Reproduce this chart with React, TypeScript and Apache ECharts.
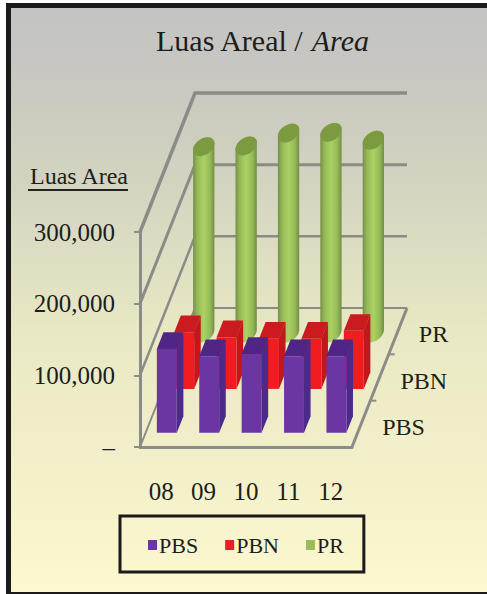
import React, { useEffect, useRef } from "react";
import * as echarts from "echarts";

const categories = ["08", "09", "10", "11", "12"];
const seriesNames = ["PBS", "PBN", "PR"];
const pbsValues = [117000, 107000, 110000, 107000, 107000];
const pbnValues = [79000, 72000, 70000, 70000, 81000];
const prValues = [260000, 261000, 279000, 280000, 269000];
const gridValues = [0, 100000, 200000, 300000];
const gridWidths = [2, 2.5, 3, 3.5];

const DEPTH_X = 55;
const DEPTH_Y = 139;
const ROW_DEPTH = [0.162, 0.478, 0.82];
const HALF_DEPTH = 0.06;
const BAR_FRAC = 0.47;
const CYLINDER_SHIFT = -0.06;
const FONT = '"Liberation Serif", serif';
const LINE = "#8b8c88";

const project = (api: any, i: number, v: number, off: number, d: number) => {
  const p = api.coord([i, v]);
  const band = api.size([1, 0])[0];
  return [p[0] + off * band + DEPTH_X * d, p[1] - DEPTH_Y * d];
};

const prism = (front: string, side: string, top: string, row: number) => (params: any, api: any) => {
  const i = api.value(0);
  const v = api.value(1);
  const h = BAR_FRAC / 2;
  const f = ROW_DEPTH[row] - HALF_DEPTH;
  const b = ROW_DEPTH[row] + HALF_DEPTH;
  const pt = (off: number, val: number, d: number) => project(api, i, val, off, d);
  return {
    type: "group",
    children: [
      { type: "polygon", shape: { points: [pt(h, 0, f), pt(h, 0, b), pt(h, v, b), pt(h, v, f)] }, style: { fill: side } },
      { type: "polygon", shape: { points: [pt(-h, v, f), pt(h, v, f), pt(h, v, b), pt(-h, v, b)] }, style: { fill: top } },
      { type: "polygon", shape: { points: [pt(-h, 0, f), pt(h, 0, f), pt(h, v, f), pt(-h, v, f)] }, style: { fill: front } },
    ],
  };
};

const cylinder = (params: any, api: any) => {
  const i = api.value(0);
  const v = api.value(1);
  const band = api.size([1, 0])[0];
  const rx = BAR_FRAC / 2;
  const rd = 0.068;
  const a = Math.atan2(DEPTH_X * rd, rx * band);
  const at = (val: number, t: number) =>
    project(api, i, val, CYLINDER_SHIFT + rx * Math.cos(t), ROW_DEPTH[2] + rd * Math.sin(t));
  const arc = (val: number, t0: number, t1: number) => {
    const out: number[][] = [];
    for (let k = 0; k <= 24; k++) out.push(at(val, t0 + ((t1 - t0) * k) / 24));
    return out;
  };
  const body = [...arc(0, a + Math.PI, a + 2 * Math.PI), ...arc(v, a, a + Math.PI)];
  const gradient = new echarts.graphic.LinearGradient(0, 0, 1, 0, [
    { offset: 0, color: "#768f47" },
    { offset: 0.2, color: "#94ba58" },
    { offset: 0.5, color: "#abd262" },
    { offset: 0.8, color: "#94ba58" },
    { offset: 1, color: "#748c45" },
  ]);
  return {
    type: "group",
    children: [
      { type: "polygon", shape: { points: body }, style: { fill: gradient } },
      { type: "polygon", shape: { points: arc(v, 0, 2 * Math.PI) }, style: { fill: "#7c9a3f" } },
    ],
  };
};

const walls = (params: any, api: any) => {
  const idx = params.dataIndex;
  const v = api.value(1);
  const n = categories.length;
  const lw = gridWidths[idx];
  const style = { stroke: LINE, lineWidth: lw, fill: "none" };
  const children: any[] = [
    {
      type: "polyline",
      shape: { points: [project(api, 0, v, -0.5, 0), project(api, 0, v, -0.5, 1), project(api, n - 1, v, 0.5, 1)] },
      style,
    },
  ];
  if (v === 0) {
    const edge = (d: number) => project(api, n - 1, 0, 0.5, d);
    children.push({ type: "line", shape: { x1: edge(0)[0], y1: edge(0)[1], x2: edge(1)[0], y2: edge(1)[1] }, style: { stroke: LINE, lineWidth: 3 } });
    [1 / 3, 2 / 3].forEach((d) => {
      const e = edge(d);
      children.push({ type: "line", shape: { x1: e[0], y1: e[1], x2: e[0] + 6, y2: e[1] }, style: { stroke: LINE, lineWidth: 2 } });
    });
  }
  return { type: "group", children };
};

const rowLabels = (params: any, api: any) => {
  const n = categories.length;
  const idx = api.value(0);
  const e = project(api, n - 1, 0, 0.5, (idx + 0.5) / 3);
  return {
    type: "text",
    x: e[0] + 21,
    y: e[1] + 3,
    style: {
      text: seriesNames[idx],
      fill: "#1d1d1b",
      font: `24px ${FONT}`,
      textAlign: "left",
      textVerticalAlign: "middle",
    },
  };
};

export default function App() {
  const ref = useRef<HTMLDivElement>(null);
  useEffect(() => {
    const chart = echarts.init(ref.current!, undefined, { renderer: "svg" });
    const toData = (vals: number[]) => vals.map((v, i) => [i, v]);
    chart.setOption({
      animation: false,
      backgroundColor: "#ffffff",
      title: {
        text: "{a|Luas Areal / }{b|Area}",
        left: 151,
        top: 20,
        textStyle: {
          fontWeight: "normal",
          rich: {
            a: { fontFamily: FONT, fontSize: 30, fontWeight: "normal", color: "#1d1d1b" },
            b: { fontFamily: FONT, fontSize: 30, fontWeight: "normal", fontStyle: "italic", color: "#1d1d1b" },
          },
        },
      },
      legend: {
        data: seriesNames,
        left: 120,
        top: 516,
        icon: "rect",
        itemWidth: 9,
        itemHeight: 10,
        itemGap: 27,
        padding: [18, 20, 16, 28],
        borderColor: "#1a1a1a",
        borderWidth: 3,
        textStyle: { fontFamily: FONT, fontSize: 22, color: "#1d1d1b", padding: [2, 0, 0, -3] },
      },
      grid: { left: 140, width: 212, top: 232, height: 215 },
      xAxis: {
        type: "category",
        data: categories,
        axisLine: { lineStyle: { color: LINE, width: 3 } },
        axisTick: { length: 6, lineStyle: { color: LINE, width: 2 } },
        axisLabel: { fontFamily: FONT, fontSize: 25, color: "#1d1d1b", margin: 32 },
      },
      yAxis: {
        type: "value",
        min: 0,
        max: 300000,
        interval: 100000,
        name: "Luas Area",
        nameLocation: "end",
        nameGap: 44,
        nameTextStyle: { fontFamily: FONT, fontSize: 24, color: "#1d1d1b", align: "right", padding: [0, 12, 0, 0] },
        splitLine: { show: false },
        axisLine: { show: true, lineStyle: { color: LINE, width: 3 } },
        axisTick: { show: true, length: 6, lineStyle: { color: LINE, width: 2 } },
        axisLabel: {
          fontFamily: FONT,
          fontSize: 25,
          color: "#1d1d1b",
          margin: 25,
          formatter: (v: number) => (v === 0 ? "–" : v.toLocaleString("en-US")),
        },
      },
      graphic: [
        {
          type: "rect",
          z: -10,
          shape: { x: 11, y: 8, width: 476, height: 584 },
          style: {
            fill: new echarts.graphic.LinearGradient(0, 0, 0, 1, [
              { offset: 0, color: "#c3c4c3" },
              { offset: 0.1, color: "#c8c6c1" },
              { offset: 0.26, color: "#d0d1bf" },
              { offset: 0.55, color: "#e8e8c4" },
              { offset: 1, color: "#fcf8cf" },
            ]),
          },
        },
        { type: "rect", z: -9, shape: { x: 6, y: 3, width: 481, height: 5 }, style: { fill: "#1c1a1a" } },
        { type: "rect", z: -9, shape: { x: 6, y: 3, width: 5, height: 591 }, style: { fill: "#1c1a1a" } },
        { type: "rect", z: -9, shape: { x: 6, y: 592, width: 481, height: 2 }, style: { fill: "#1c1a1a" } },
        { type: "line", z: 5, shape: { x1: 28, y1: 190, x2: 128, y2: 190 }, style: { stroke: "#222", lineWidth: 2 } },
      ],
      series: [
        { type: "custom", name: "walls", renderItem: walls, data: gridValues.map((v) => [0, v]), encode: { x: 0, y: 1 }, silent: true, z: 1 },
        { type: "custom", name: "rows", renderItem: rowLabels, data: seriesNames.map((_, i) => [i, 0]), encode: { x: 0, y: 1 }, silent: true, z: 1 },
        { type: "custom", name: "PR", renderItem: cylinder, data: toData(prValues), encode: { x: 0, y: 1 }, itemStyle: { color: "#9bbb59" }, z: 2 },
        { type: "custom", name: "PBN", renderItem: prism("#f01c20", "#c2181d", "#cb1b20", 1), data: toData(pbnValues), encode: { x: 0, y: 1 }, itemStyle: { color: "#ee1c25" }, z: 3 },
        { type: "custom", name: "PBS", renderItem: prism("#6b36a3", "#4b2a8c", "#4f2586", 0), data: toData(pbsValues), encode: { x: 0, y: 1 }, itemStyle: { color: "#6b36a3" }, z: 4 },
      ],
    });
    return () => chart.dispose();
  }, []);
  return <div ref={ref} style={{ position: "absolute", left: 0, top: 0, width: 487, height: 594 }} />;
}
